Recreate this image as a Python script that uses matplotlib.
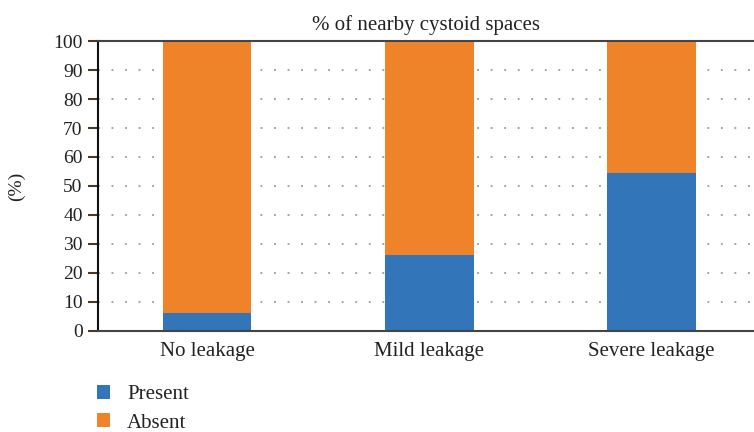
import numpy as np
import matplotlib.pyplot as plt
from matplotlib.patches import Patch

categories = ["No leakage", "Mild leakage", "Severe leakage"]
present = [6.3, 26.3, 54.5]
absent = [100 - p for p in present]
series_names = ["Present", "Absent"]
colors = ["#3375B9", "#EF832A"]

plt.rcParams['font.family'] = ['Liberation Serif', 'DejaVu Serif']

fig = plt.figure(figsize=(7.54, 4.32), dpi=100)
ax = fig.add_axes([0.130, 0.234, 0.870, 0.671])

x = np.arange(len(categories))
ax.bar(x, present, width=0.4, color=colors[0], zorder=2)
ax.bar(x, absent, width=0.4, bottom=present, color=colors[1], zorder=2)

ax.set_xlim(-0.49, 2.46)
ax.set_ylim(0, 100)
ax.set_yticks(np.arange(0, 101, 10))
ax.set_xticks(x)
ax.set_xticklabels(categories)
ax.tick_params(axis='y', direction='out', length=7, width=1.5, color='#4a3828',
               labelsize=14, pad=4)
ax.tick_params(axis='x', length=0, labelsize=15, pad=8)
ax.tick_params(labelcolor='#222222')

# dotted grid, inner levels only
for y in range(10, 100, 10):
    ax.axhline(y, color='#999999', linestyle=(0, (1, 6.5)), linewidth=1.3, zorder=1)

ax.spines['right'].set_visible(False)
ax.spines['left'].set_color('#111111')
ax.spines['left'].set_linewidth(1.5)
for s in ['top', 'bottom']:
    ax.spines[s].set_color('#444444')
    ax.spines[s].set_linewidth(1.5)
    ax.spines[s].set_zorder(3)

ax.set_title("% of nearby cystoid spaces", fontsize=15, color='#222222', pad=8)
ax.set_ylabel("(%)", fontsize=14, color='#222222', labelpad=20)

handles = [Patch(facecolor=c, edgecolor='none') for c in colors]
fig.legend(handles, series_names, loc='upper left', bbox_to_anchor=(0.12, 0.124),
           frameon=False, fontsize=15, handlelength=0.65, handleheight=0.65,
           handletextpad=0.8, labelspacing=0.45, labelcolor='#222222',
           borderaxespad=0, borderpad=0.3)

fig.savefig("out.png", dpi=100)
